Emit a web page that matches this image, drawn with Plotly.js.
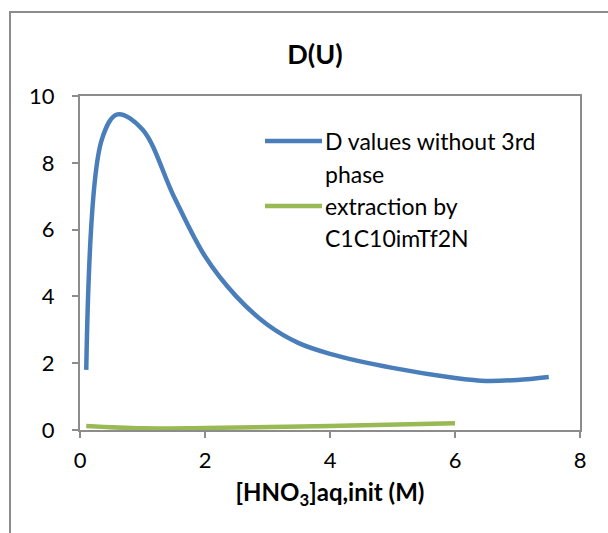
<!DOCTYPE html>
<html>
<head>
<meta charset="utf-8">
<script src="https://cdn.plot.ly/plotly-3.0.1.min.js"></script>
<style>
  html, body { margin: 0; padding: 0; width: 608px; height: 533px; overflow: hidden; background: #fff; }
  #frame { position: absolute; left: 9px; top: 11px; width: 800px; height: 800px; border: 2px solid #8c8c8c; box-sizing: border-box; }
  #chart { position: absolute; left: 0; top: 0; width: 608px; height: 533px; }
</style>
</head>
<body>
<div id="frame"></div>
<div id="chart"></div>
<script>
// Data
const blueX = [0.1, 0.35, 0.6, 1.0, 1.5, 2.0, 2.5, 3.0, 3.5, 4.0, 5.0, 6.0, 6.5, 7.0, 7.5];
const blueY = [1.8, 8.7, 9.45, 9.0, 7.0, 5.2, 4.0, 3.15, 2.6, 2.28, 1.86, 1.56, 1.47, 1.5, 1.59];
const greenX = [0.1, 1.0, 2.0, 4.0, 6.0];
const greenY = [0.12, 0.05, 0.06, 0.12, 0.2];
const seriesNames = ["D values without 3rd phase", "extraction by C1C10imTf2N"];
const legendLines = [["D values without 3rd", "phase"], ["extraction by", "C1C10imTf2N"]];
const xTicks = [0, 2, 4, 6, 8];
const yTicks = [0, 2, 4, 6, 8, 10];

const blue = "#4a7ebb";
const green = "#98b954";
const font = "Lato, 'Open Sans', sans-serif";

const traces = [
  { x: blueX, y: blueY, name: seriesNames[0], type: "scatter", mode: "lines",
    line: { color: blue, width: 4.5, shape: "spline", smoothing: 1.0 } },
  { x: greenX, y: greenY, name: seriesNames[1], type: "scatter", mode: "lines",
    line: { color: green, width: 4.5, shape: "spline", smoothing: 1.0 } }
];

// Legend drawn as shapes + annotations (Excel style spacing)
const lx0 = 0.37, lx1 = 0.484, tx = 0.486;
const rowY = [0.865, 0.766, 0.671, 0.575];
const shapes = [
  { type: "line", xref: "paper", yref: "paper", x0: lx0, x1: lx1, y0: rowY[0], y1: rowY[0], line: { color: blue, width: 4.5 } },
  { type: "line", xref: "paper", yref: "paper", x0: lx0, x1: lx1, y0: rowY[2], y1: rowY[2], line: { color: green, width: 4.5 } }
];
const legendTexts = [legendLines[0][0], legendLines[0][1], legendLines[1][0], legendLines[1][1]];
const annotations = legendTexts.map((t, i) => ({
  text: t, xref: "paper", yref: "paper", x: tx, y: rowY[i], xanchor: "left", yanchor: "middle",
  showarrow: false, font: { family: font, size: 23, color: "#000" }
}));

const layout = {
  width: 608, height: 533,
  paper_bgcolor: "rgba(0,0,0,0)", plot_bgcolor: "rgba(0,0,0,0)",
  margin: { l: 80, r: 28, t: 96, b: 103 },
  showlegend: false,
  font: { family: font, size: 22, color: "#000" },
  title: { text: "D(U)", x: 0.518, xanchor: "center", y: 0.897, yanchor: "middle",
           font: { family: font, size: 27, weight: "bold", color: "#000" } },
  xaxis: {
    range: [0, 8], tickvals: xTicks, ticktext: xTicks.map(String),
    showgrid: false, zeroline: false, showline: true, mirror: true,
    linecolor: "#8c8c8c", linewidth: 2, ticks: "outside", ticklen: 6, tickwidth: 2, tickcolor: "#8c8c8c",
    ticklabelstandoff: 4,
    tickfont: { family: font, size: 22, color: "#000" },
    title: { text: "[HNO<sub>3</sub>]aq,init (M)", standoff: 12,
             font: { family: font, size: 24, weight: "bold", color: "#000" } }
  },
  yaxis: {
    range: [0, 10], tickvals: yTicks, ticktext: yTicks.map(String),
    showgrid: false, zeroline: false, showline: true, mirror: true,
    linecolor: "#8c8c8c", linewidth: 2, ticks: "outside", ticklen: 6, tickwidth: 2, tickcolor: "#8c8c8c",
    ticklabelstandoff: 13,
    tickfont: { family: font, size: 22, color: "#000" }
  },
  shapes: shapes,
  annotations: annotations
};

Plotly.newPlot("chart", traces, layout, { staticPlot: true, displayModeBar: false });
</script>
</body>
</html>
